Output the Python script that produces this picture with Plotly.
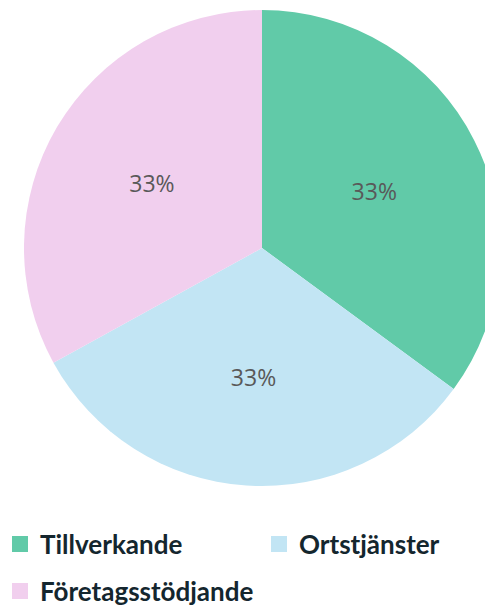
import plotly.graph_objects as go

categories = ["Tillverkande", "Ortstjänster", "Företagsstödjande"]
values = [35.1, 31.9, 33.0]
label_texts = ["33%", "33%", "33%"]
colors = ["#61CAA8", "#C2E5F4", "#F1CFEE"]
legend_ids = ["legend", "legend", "legend2"]

fig = go.Figure()
fig.add_trace(
    go.Pie(
        labels=categories,
        values=values,
        text=label_texts,
        textinfo="text",
        textposition="inside",
        insidetextorientation="horizontal",
        sort=False,
        direction="clockwise",
        rotation=0,
        marker=dict(colors=colors, line=dict(width=0)),
        textfont=dict(family="Open Sans", size=23, color="#595959"),
        domain=dict(x=[0, 1], y=[0.1993, 0.9835]),
        hoverinfo="label+percent",
        showlegend=False,
    )
)

# legend entries (same categories / colours as the pie)
for name, col, lg in zip(categories, colors, legend_ids):
    fig.add_trace(
        go.Scatter(
            x=[None], y=[None], mode="markers", name=name,
            marker=dict(symbol="square", size=16, color=col),
            legend=lg, showlegend=True, hoverinfo="skip",
        )
    )

legend_font = dict(family="Lato", size=26, color="#14262E", weight="bold")
fig.update_layout(
    width=524,
    height=607,
    margin=dict(l=0, r=0, t=0, b=0, autoexpand=False),
    paper_bgcolor="white",
    plot_bgcolor="white",
    xaxis=dict(visible=False),
    yaxis=dict(visible=False),
    legend=dict(
        orientation="h", xref="container", yref="container",
        x=0, xanchor="left", y=1 - 544 / 607, yanchor="middle",
        entrywidth=214, entrywidthmode="pixels",
        font=legend_font, itemclick=False, bgcolor="rgba(0,0,0,0)",
    ),
    legend2=dict(
        orientation="h", xref="container", yref="container",
        x=0, xanchor="left", y=1 - 591 / 607, yanchor="middle",
        font=legend_font, itemclick=False, bgcolor="rgba(0,0,0,0)",
    ),
)

fig.write_html(
    "out.html",
    config={"displayModeBar": False},
    post_script="document.body.style.margin='0';document.body.style.overflow='hidden';",
)
